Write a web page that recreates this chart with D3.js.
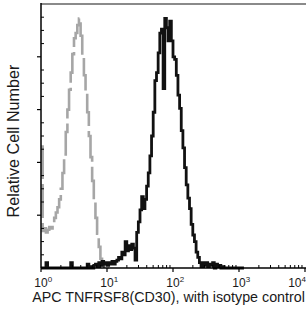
<!DOCTYPE html>
<html>
<head>
<meta charset="utf-8">
<script src="https://cdn.jsdelivr.net/npm/d3@7"></script>
<style>
  html, body { margin: 0; padding: 0; background: #fff; }
  svg { display: block; }
  text { font-family: "Liberation Sans", Arial, sans-serif; fill: #1a1a1a; }
</style>
</head>
<body>
<svg id="chart" width="306" height="314"></svg>
<script>
// ---- data ----
const xTickDecades = [0, 1, 2, 3, 4];
const xLabel = "APC TNFRSF8(CD30), with isotype control";
const yLabel = "Relative Cell Number";
const yMajorTicks = [40, 80, 120, 160];
const binStartDecade = 0;      // histogram bins on a 4-decade log scale
const binWidthDecade = 0.025;
// isotype control (grey dashed)
const isotypeCounts = [92, 28, 30, 27, 29, 31, 30, 34, 38, 42, 46, 52, 60, 72, 86, 103, 120, 135, 148, 162,
  174, 178, 184, 189, 176, 160, 146, 132, 118, 100, 84, 66, 50, 38, 26, 16, 7, 2, 0, 0, 0];
// TNFRSF8 (CD30) stained (black)
const cd30Counts = [0, 0, 0, 4, 0, 0, 0, 0, 0, 0, 0, 0, 0, 0, 0, 0, 0, 0, 4, 0,
  0, 0, 0, 0, 0, 0, 0, 0, 3, 0, 1, 0, 2, 3, 1, 4, 2, 5, 3, 4,
  2, 4, 3, 5, 3, 5, 6, 8, 7, 12, 10, 20, 13, 17, 14, 18, 15, 6, 27, 35,
  44, 54, 45, 52, 62, 72, 85, 100, 118, 142, 148, 163, 178, 181, 136, 189, 182, 172, 187, 172,
  160, 158, 146, 131, 121, 104, 91, 76, 63, 53, 45, 33, 25, 20, 12, 8, 4, 1, 4, 2,
  4, 1, 3, 2, 4, 0, 3, 1, 2, 0, 1, 0, 0, 0, 0, 0, 0, 0, 0, 0, 0, 0, 0];

// ---- layout ----
const svg = d3.select("#chart");
const mLeft = 41, mRight = 305, mTop = 4, mBottom = 268;
const x = d3.scaleLog().domain([1, 1e4]).range([mLeft, mRight]);
const y = d3.scaleLinear().domain([0, 200]).range([mBottom, mTop]);

function toSteps(counts) {
  const pts = [];
  counts.forEach((c, i) => {
    const d0 = binStartDecade + i * binWidthDecade;
    pts.push([Math.pow(10, d0), c]);
  });
  const last = binStartDecade + counts.length * binWidthDecade;
  pts.push([Math.pow(10, Math.min(last, 4)), counts[counts.length - 1]]);
  return pts;
}
const line = d3.line().x(d => x(d[0])).y(d => y(d[1])).curve(d3.curveStepAfter);

// top frame line
svg.append("line").attr("x1", mLeft).attr("x2", 306).attr("y1", mTop).attr("y2", mTop)
  .attr("stroke", "#8a8a8a").attr("stroke-width", 2);

// histograms
svg.append("path").datum(toSteps(isotypeCounts))
  .attr("d", line).attr("fill", "none")
  .attr("stroke", "#a6a6a6").attr("stroke-width", 2.6)
  .attr("stroke-dasharray", "34,5").attr("stroke-linejoin", "miter");
svg.append("path").datum(toSteps(cd30Counts))
  .attr("d", line).attr("fill", "none")
  .attr("stroke", "#111").attr("stroke-width", 2.8).attr("stroke-linejoin", "miter");

// axes lines
svg.append("line").attr("x1", mLeft).attr("x2", mLeft).attr("y1", mTop - 1).attr("y2", mBottom)
  .attr("stroke", "#000").attr("stroke-width", 1.5);
svg.append("line").attr("x1", mLeft).attr("x2", 306).attr("y1", mBottom).attr("y2", mBottom)
  .attr("stroke", "#000").attr("stroke-width", 1.5);

// y ticks
const yMinor = d3.range(10, 200, 10).filter(v => !yMajorTicks.includes(v));
svg.append("g").selectAll("line").data(yMinor).join("line")
  .attr("x1", mLeft).attr("x2", mLeft + 3).attr("y1", d => y(d)).attr("y2", d => y(d))
  .attr("stroke", "#000").attr("stroke-width", 1);
svg.append("g").selectAll("line").data(yMajorTicks).join("line")
  .attr("x1", mLeft - 4).attr("x2", mLeft).attr("y1", d => y(d)).attr("y2", d => y(d))
  .attr("stroke", "#000").attr("stroke-width", 1.2);

// x ticks
const xMinor = [];
for (let dcd = 0; dcd < 4; dcd++) for (let m = 2; m <= 9; m++) xMinor.push(m * Math.pow(10, dcd));
svg.append("g").selectAll("line").data(xMinor).join("line")
  .attr("x1", d => x(d)).attr("x2", d => x(d)).attr("y1", mBottom - 3).attr("y2", mBottom)
  .attr("stroke", "#000").attr("stroke-width", 1);
svg.append("g").selectAll("line").data(xTickDecades).join("line")
  .attr("x1", d => x(Math.pow(10, d))).attr("x2", d => x(Math.pow(10, d)))
  .attr("y1", mBottom).attr("y2", mBottom + 4)
  .attr("stroke", "#000").attr("stroke-width", 1.2);

// x tick labels
xTickDecades.forEach(dcd => {
  const t = svg.append("text").attr("y", 286.5).attr("font-size", 12);
  t.append("tspan").text("10");
  t.append("tspan").attr("dy", -5).attr("font-size", 8).text(dcd);
  const w = t.node().getComputedTextLength();
  const w10 = t.select("tspan").node().getComputedTextLength();
  let xs = x(Math.pow(10, dcd)) - w10 / 2;
  if (xs + w > 306) xs = 306 - w;
  t.attr("x", xs);
});

// axis titles
const xl = svg.append("text").attr("x", 168.5).attr("y", 302)
  .attr("text-anchor", "middle").attr("font-size", 14).text(xLabel);
const xlw = xl.node().getComputedTextLength();
xl.attr("font-size", 14 * 273 / xlw);

const yl = svg.append("text").attr("transform", "translate(19,141) rotate(-90)")
  .attr("text-anchor", "middle").attr("font-size", 16).text(yLabel);
const ylw = yl.node().getComputedTextLength();
yl.attr("font-size", 16 * 153 / ylw);
</script>
</body>
</html>
